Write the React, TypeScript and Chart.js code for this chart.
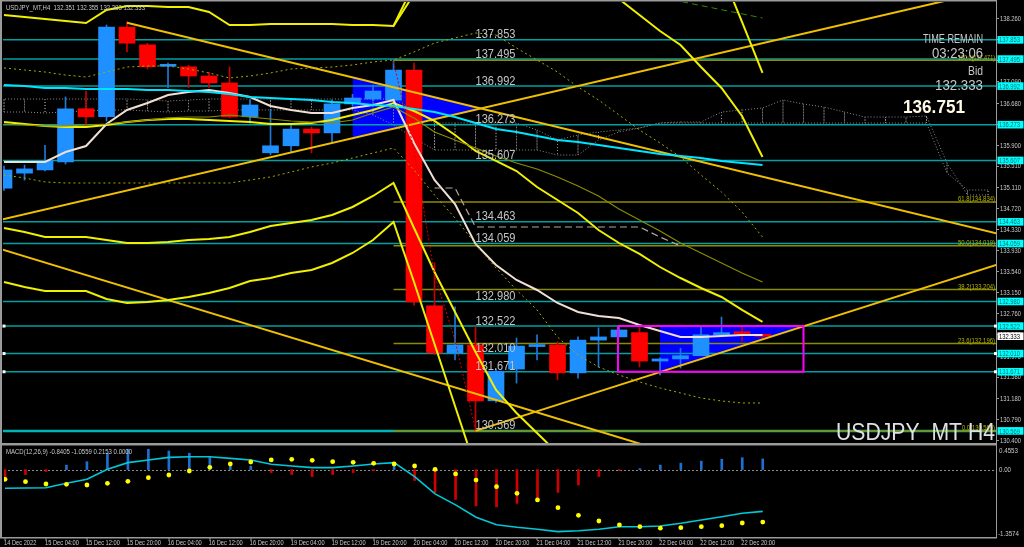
import React, { useEffect, useRef } from 'react';
import { Chart, registerables } from 'chart.js';
Chart.register(...registerables);

// ---------- scale ranges ----------
const X_MIN = -0.05;
const X_MAX = 48.39;
const PRICE_MAX = 138.558;
const PRICE_MIN = 130.344;
const MACD_MAX = 0.4553;
const MACD_MIN = -1.3574;

// ---------- candles (H4 bars, 14 Dec 20:00 .. 23 Dec 00:00) ----------
const opens = [135.09,135.37,135.43,135.58,136.57,136.42,138.09,137.76,137.36,137.35,137.18,137.05,136.42,135.75,135.88,136.19,136.12,136.66,136.75,136.73,137.29,132.90,132.02,132.17,131.13,131.72,132.14,132.17,131.65,132.26,132.32,132.40,131.87,131.91,131.97,132.36,132.40,132.351];
const highs = [135.50,135.52,135.89,136.79,136.90,138.13,138.19,137.79,137.42,137.38,137.25,137.35,136.73,136.55,136.30,136.23,136.73,136.84,137.01,137.471,137.42,133.70,132.88,132.51,131.73,132.30,132.36,132.23,132.32,132.49,132.50,132.49,131.93,132.11,132.50,132.69,132.51,132.355];
const lows = [135.05,135.24,135.41,135.54,136.23,136.34,137.63,137.31,136.96,136.96,136.96,136.40,136.30,135.71,135.76,135.75,135.95,136.62,136.71,136.66,132.91,131.99,131.89,130.569,131.10,131.46,131.89,131.52,131.55,131.76,132.32,131.76,131.61,131.74,131.97,132.35,132.24,132.283];
const closes = [135.43,135.45,135.60,136.57,136.42,138.09,137.79,137.35,137.37,137.18,137.05,136.42,136.64,135.88,136.19,136.12,136.66,136.77,136.90,137.29,132.97,132.02,132.17,131.13,131.68,132.15,132.16,131.65,132.26,132.32,132.45,131.87,131.91,131.97,132.36,132.40,132.38,132.333];

// ---------- indicator lines (per bar) ----------
const upperBand1 = [138.316,138.279,138.241,138.204,138.167,138.409,138.484,138.484,138.465,138.465,138.372,138.130,138.130,138.148,138.148,138.148,138.148,138.130,138.130,138.111,138.707,139.4,139.8,140.1,140.3,140.4,140.4,140.3,140.2,140.0,139.8,139.6,139.45,139.3,139.2,139.117,138.186,137.236];
const upperBand2 = [null,null,null,null,null,null,null,null,null,null,null,null,null,null,null,null,null,null,null,138.111,138.9,139.5,139.7,139.8,139.8,139.7,139.5,139.3,139.0,138.8,138.614,138.316,138.018,137.757,137.347,136.956,136.435,135.671];
const lowerBand1 = [134.349,134.274,134.181,134.181,134.181,134.125,134.069,134.069,134.088,134.125,134.144,134.181,134.274,134.386,134.442,134.498,134.591,134.740,134.945,135.187,134.349,133.529,132.784,132.039,131.332,130.903,130.531,130.158,129.843,129.6,129.45,129.35,129.3,129.3,129.3,129.35,129.4,129.45];
const lowerBand2 = [133.343,133.250,133.175,133.175,133.175,133.026,132.952,132.970,133.008,133.064,133.138,133.231,133.362,133.417,133.511,133.566,133.697,133.883,134.125,134.461,133.343,132.188,131.034,129.879,129.2,128.9,128.7,128.6,128.5,128.5,128.5,128.5,128.5,128.55,128.6,128.65,128.7,128.75];
const yellowMA = [136.323,136.286,136.249,136.230,136.230,136.267,136.323,136.360,136.379,136.379,136.360,136.342,136.323,136.286,136.286,136.304,136.360,136.453,136.547,136.677,136.528,136.342,136.081,135.783,135.597,135.410,135.112,134.870,134.628,134.311,134.069,133.865,133.622,133.417,133.231,133.064,132.822,132.598];
const oliveMA = [136.286,136.267,136.249,136.249,136.267,136.286,136.323,136.360,136.398,136.416,136.416,136.453,136.416,136.379,136.342,136.323,136.304,136.360,136.491,136.602,136.398,136.137,135.988,135.839,135.690,135.559,135.448,135.299,135.131,134.945,134.703,134.498,134.293,134.069,133.883,133.697,133.511,133.343];
const cyanMA = [137.012,136.993,136.956,136.956,136.938,136.938,136.938,136.919,136.919,136.900,136.882,136.845,136.789,136.770,136.751,136.733,136.696,136.677,136.640,136.621,136.565,136.509,136.416,136.304,136.193,136.137,136.062,135.988,135.951,135.895,135.839,135.783,135.727,135.690,135.653,135.597,135.559,135.522];
const whiteMA = [135.578,135.578,135.578,135.764,135.876,136.286,136.547,136.677,136.826,136.882,136.919,136.863,136.789,136.621,136.547,136.491,136.491,136.584,136.640,136.733,135.932,135.243,134.796,134.051,133.660,133.380,133.194,132.952,132.784,132.710,132.673,132.542,132.430,132.318,132.318,132.337,132.356,132.356];
const oliveDotUpper = [137.329,137.292,137.254,137.198,137.161,137.254,137.347,137.366,137.366,137.310,137.236,137.143,137.180,137.236,137.310,137.329,137.347,137.385,137.441,137.478,137.627,137.794,137.888,137.981,137.943,137.701,137.478,137.254,136.975,136.733,136.454,136.174,135.932,135.671,135.336,135.019,134.647,134.181];
const oliveDotLower = [135.336,135.280,135.206,135.187,135.187,135.187,135.187,135.187,135.187,135.187,135.187,135.187,135.243,135.299,135.392,135.485,135.559,135.652,135.746,135.839,135.429,134.963,134.535,134.051,133.604,133.194,132.822,132.318,131.983,131.760,131.611,131.481,131.369,131.276,131.182,131.127,131.089,131.089];
const redDotStart = 19;
const redDot = [137.441,135.802,133.473,132.263,130.587];
const kijunStart = 21;
const kijun = [135.094,135.094,134.367,134.367,134.367,134.367,134.367,134.367,134.367,134.367,134.367,134.181,134.014];

// Ichimoku cloud (shifted forward, bars 0..48)
const spanA = [136.751,136.751,136.751,136.751,136.751,136.751,136.751,136.733,136.714,136.733,136.751,136.751,136.751,136.751,136.751,136.751,136.751,136.751,136.751,136.751,136.547,136.304,136.304,136.304,136.304,136.304,136.174,135.988,136.081,136.137,136.174,136.211,136.304,136.323,136.323,136.509,136.547,136.584,136.733,136.658,136.602,136.509,136.416,136.416,136.416,136.435,135.559,134.963,134.963];
const spanB = [136.509,136.509,136.491,136.509,136.528,136.547,136.547,136.528,136.509,136.528,136.528,136.547,136.547,136.547,136.547,136.547,136.547,136.547,136.453,136.267,136.025,135.802,135.802,135.802,135.802,135.802,135.802,135.708,135.708,135.988,136.137,136.211,136.304,136.304,136.304,136.304,136.304,136.304,136.304,136.304,136.304,136.304,136.304,136.304,136.304,136.304,135.373,135.057,135.057];

// ---------- drawn objects ----------
const levels = [137.853,137.495,136.992,136.273,135.607,134.463,134.059,132.980,132.522,132.010,131.671,130.569];
const selectedLevels = [132.522,132.010,131.671];
const fiboStartBar = 19;
const fiboPrices = [137.471,134.834,134.019,133.204,132.196,130.569];
const fiboLabels = ['100.0(137.471)','61.8(134.834)','50.0(134.019)','38.2(133.204)','23.6(132.196)','0.0(130.569)'];
const trendUp = [[-0.2,134.50],[48.4,138.80]];
const trendDown = [[6,138.17],[48.4,134.25]];
const trendDownLow = [[-0.2,133.96],[48.4,128.31]];
const trendSupport = [[23,130.569],[48.4,133.66]];
const wedgeTop = [[17,137.153],[23.2,136.575]];
const wedgeBottom = [[17,136.022],[23.2,136.575]];
const boxTop = [[32,132.522],[39,132.522]];
const boxBottom = [[32,131.646],[39,132.522]];
const rectBars = [29.95,39.0];
const rectPrices = [132.522,131.671];
const greenDash = [[32.6,138.6],[37.0,138.26]];

// ---------- MACD ----------
const macdHist = [-0.17,-0.10,-0.04,0.09,0.16,0.33,0.41,0.41,0.375,0.33,0.26,0.14,0.07,-0.06,-0.10,-0.14,-0.10,-0.06,-0.02,0.10,-0.22,-0.46,-0.60,-0.73,-0.75,-0.68,-0.60,-0.46,-0.31,-0.14,-0.02,0.02,0.09,0.13,0.17,0.21,0.24,0.2153];
const macdMain = [-0.377,-0.37,-0.364,-0.276,-0.196,0.006,0.14,0.194,0.247,0.26,0.26,0.227,0.194,0.107,0.072,0.039,0.039,0.072,0.113,0.14,-0.143,-0.49,-0.71,-0.96,-1.11,-1.16,-1.2,-1.25,-1.23,-1.2,-1.15,-1.15,-1.135,-1.08,-1.015,-0.95,-0.88,-0.8405];
const macdSignal = [-0.196,-0.244,-0.29,-0.296,-0.31,-0.276,-0.236,-0.163,-0.109,-0.028,0.045,0.113,0.153,0.194,0.207,0.187,0.16,0.146,0.126,0.113,0.073,0.006,-0.088,-0.21,-0.344,-0.477,-0.61,-0.767,-0.92,-1.035,-1.115,-1.15,-1.18,-1.17,-1.15,-1.13,-1.075,-1.0559];

// ---------- tick labels ----------
const priceTicks = [138.26,137.87,137.48,137.09,136.68,136.29,135.90,135.51,135.11,134.72,134.33,133.93,133.54,133.15,132.76,132.37,131.97,131.58,131.18,130.79,130.40];
const timeLabels = ['14 Dec 2022','15 Dec 04:00','15 Dec 12:00','15 Dec 20:00','16 Dec 04:00','16 Dec 12:00','16 Dec 20:00','19 Dec 04:00','19 Dec 12:00','19 Dec 20:00','20 Dec 04:00','20 Dec 12:00','20 Dec 20:00','21 Dec 04:00','21 Dec 12:00','21 Dec 20:00','22 Dec 04:00','22 Dec 12:00','22 Dec 20:00'];
const timeLabelBars = [0,2,4,6,8,10,12,14,16,18,20,22,24,26,28,30,32,34,36];
const titleText = 'USDJPY_MT,H4  132.351 132.355 132.283 132.333';
const macdTitle = 'MACD(12,26,9) -0.8405 -1.0559 0.2153 0.0000';
const bidPrice = 132.333;
const cloudValue = '136.751';

const FONT = '"Liberation Sans", Arial, sans-serif';
const FRAME = '#9a9a9a';
const TXT = '#c8c8c8';

function drawText(ctx: CanvasRenderingContext2D, text: string, x: number, y: number, o: { size: number; color: string; align?: CanvasTextAlign; width?: number; sx?: number; bold?: boolean }) {
  ctx.save();
  ctx.font = `${o.bold ? 'bold ' : ''}${o.size}px ${FONT}`;
  const w = ctx.measureText(text).width;
  const sx = o.width ? o.width / w : (o.sx ?? 1);
  ctx.translate(x, y);
  ctx.scale(sx, 1);
  ctx.textAlign = o.align ?? 'left';
  ctx.textBaseline = 'alphabetic';
  ctx.fillStyle = o.color;
  ctx.fillText(text, 0, 0);
  ctx.restore();
}

const pts = (arr: (number | null)[], start = 0) =>
  arr.map((v, i) => ({ x: i + start, y: v })).filter((p) => p.y !== null);
const pairPts = (arr: number[][]) => arr.map(([x, y]) => ({ x, y }));
const lineDs = (data: any[], color: string, width: number, extra: any = {}) => ({
  type: 'line', data, borderColor: color, borderWidth: width, pointRadius: 0,
  fill: false, tension: 0, order: 2, ...extra,
});

function mainConfig(): any {
  const bars = opens.map((_, i) => i);
  const bull = bars.map((i) => closes[i] >= opens[i]);
  const hatch: any[] = [];
  spanA.forEach((a, i) => { hatch.push({ x: i, y: a }, { x: i, y: spanB[i] }, { x: i, y: a }); });
  const datasets: any[] = [
    // filled wedge and box (background objects)
    lineDs(pairPts(wedgeTop), '#0000ff', 0, { fill: '+1', backgroundColor: '#0000ff', order: 20 }),
    lineDs(pairPts(wedgeBottom), '#0000ff', 0, { order: 20 }),
    lineDs(pairPts(boxTop), '#0000ff', 0, { fill: '+1', backgroundColor: '#0000ff', order: 20 }),
    lineDs(pairPts(boxBottom), '#0000ff', 0, { order: 20 }),
    // ichimoku cloud
    lineDs(hatch, '#8c8c8c', 1, { borderDash: [1, 2], order: 15 }),
    lineDs(pts(spanB), '#8c8c8c', 1, { borderDash: [1, 2], order: 15 }),
    // levels
    ...levels.map((v) => lineDs([{ x: X_MIN - 1, y: v }, { x: X_MAX + 1, y: v }], v === 130.569 ? '#00b4b4' : '#00a0a4', v === 130.569 ? 2.5 : 1.5, { order: 12 })),
    ...fiboPrices.map((v) => lineDs([{ x: fiboStartBar, y: v }, { x: X_MAX + 1, y: v }], '#8c8c00', 1.5, { order: 11 })),
    // candles
    { type: 'bar', data: bars.map((i) => ({ x: i, y: [lows[i], highs[i]] })), backgroundColor: bull.map((b) => (b ? '#1e78d8' : '#c80000')), barThickness: 1, grouped: false, order: 9 },
    { type: 'bar', data: bars.map((i) => ({ x: i, y: [opens[i], closes[i]] })), backgroundColor: bull.map((b) => (b ? '#1e90ff' : '#ff0000')), barThickness: 16, minBarLength: 2, grouped: false, order: 8 },
    // indicators
    lineDs(pts(oliveDotUpper), '#a8a800', 1, { borderDash: [2, 3] }),
    lineDs(pts(oliveDotLower), '#a8a800', 1, { borderDash: [2, 3] }),
    lineDs(pts(oliveMA), '#8c8c00', 1.2),
    lineDs(pts(kijun, kijunStart), '#b8a89c', 1.2, { borderDash: [7, 4] }),
    lineDs(pts(redDot, redDotStart), '#d00000', 1, { borderDash: [2, 2] }),
    lineDs(pts(cyanMA), '#00e4ff', 2),
    lineDs(pts(whiteMA), '#f0e0d4', 2),
    lineDs(pts(upperBand1), '#f0f000', 2),
    lineDs(pts(upperBand2), '#f0f000', 2),
    lineDs(pts(lowerBand1), '#f0f000', 2),
    lineDs(pts(lowerBand2), '#f0f000', 2),
    lineDs(pts(yellowMA), '#f0f000', 2),
    lineDs(pairPts(trendUp), '#f0c000', 2),
    lineDs(pairPts(trendDown), '#f0c000', 2),
    lineDs(pairPts(trendDownLow), '#f0c000', 2),
    lineDs(pairPts(trendSupport), '#f0c000', 2),
    lineDs(pairPts(greenDash), '#2e8b00', 1, { borderDash: [6, 4] }),
    lineDs([
      { x: rectBars[0], y: rectPrices[0] }, { x: rectBars[1], y: rectPrices[0] },
      { x: rectBars[1], y: rectPrices[1] }, { x: rectBars[0], y: rectPrices[1] },
      { x: rectBars[0], y: rectPrices[0] },
    ], '#ff00ff', 2, { order: 1 }),
  ];

  const plugin = {
    id: 'mt4main',
    afterDraw(chart: any) {
      const { ctx, chartArea: ca, scales } = chart;
      const x = scales.x, y = scales.y;
      ctx.save();
      // frame
      ctx.fillStyle = FRAME;
      ctx.fillRect(0, 0, ca.right + 1, 1.5);
      ctx.fillRect(0, 0, 2, chart.height);
      ctx.fillRect(ca.right, 0, 1, chart.height);
      // price axis
      priceTicks.forEach((v) => {
        const py = y.getPixelForValue(v);
        ctx.fillStyle = FRAME;
        ctx.fillRect(ca.right, Math.round(py), 3, 1);
        drawText(ctx, v.toFixed(3), ca.right + 4, py + 2.8, { size: 7.5, color: TXT, width: 21 });
      });
      // level labels
      levels.forEach((v) => {
        drawText(ctx, v.toFixed(3), x.getPixelForValue(23), y.getPixelForValue(v) - 1.5, { size: 12, color: '#c4c4c4', width: 40 });
      });
      fiboPrices.forEach((v, k) => {
        drawText(ctx, fiboLabels[k], ca.right - 1, y.getPixelForValue(v) - 0.8, { size: 7, color: '#b4b400', align: 'right', width: k === 5 ? 33 : 37 });
      });
      // axis boxes
      levels.forEach((v) => {
        const py = y.getPixelForValue(v);
        ctx.fillStyle = '#00ffff';
        ctx.fillRect(ca.right + 1.5, py - 3.8, 26, 7.6);
        drawText(ctx, v.toFixed(3), ca.right + 3, py + 2.6, { size: 7.5, color: '#007070', width: 21 });
      });
      {
        const py = y.getPixelForValue(bidPrice);
        ctx.fillStyle = '#ffffff';
        ctx.fillRect(ca.right + 1.5, py - 3.8, 26, 7.6);
        drawText(ctx, bidPrice.toFixed(3), ca.right + 3, py + 2.6, { size: 7.5, color: '#000000', width: 21 });
      }
      // selection markers
      selectedLevels.forEach((v) => {
        const py = y.getPixelForValue(v);
        ctx.fillStyle = '#ffffff';
        ctx.fillRect(2.5, py - 1.5, 3, 3);
        ctx.fillRect(ca.right - 2, py - 1.5, 3, 3);
      });
      // texts
      drawText(ctx, titleText, 6, 9.5, { size: 7.5, color: TXT, width: 139 });
      drawText(ctx, 'TIME REMAIN', 983, 43, { size: 13, color: TXT, align: 'right', width: 60 });
      drawText(ctx, '03:23:06', 983, 57.5, { size: 14, color: TXT, align: 'right', width: 51 });
      drawText(ctx, 'Bid', 983, 74.5, { size: 13, color: TXT, align: 'right', width: 15 });
      drawText(ctx, bidPrice.toFixed(3), 983, 89.5, { size: 14, color: TXT, align: 'right', width: 48 });
      drawText(ctx, cloudValue, 903, 113, { size: 17.5, color: '#fffbe6', width: 62, bold: true });
      drawText(ctx, 'USDJPY_MT H4', 836, 440, { size: 24, color: '#e0e0e0', width: 159 });
      ctx.restore();
    },
  };

  return {
    type: 'line',
    data: { datasets },
    options: {
      responsive: false,
      animation: false,
      events: [],
      layout: { padding: { left: 3, top: 2, right: 28, bottom: 0 } },
      plugins: { legend: { display: false }, tooltip: { enabled: false } },
      scales: {
        x: { type: 'linear', min: X_MIN, max: X_MAX, offset: false, display: false },
        y: { type: 'linear', min: PRICE_MIN, max: PRICE_MAX, display: false },
      },
    },
    plugins: [plugin],
  };
}

function macdConfig(): any {
  const bars = macdHist.map((_, i) => i);
  const datasets: any[] = [
    { type: 'bar', data: bars.map((i) => ({ x: i, y: macdHist[i] })), backgroundColor: macdHist.map((v) => (v >= 0 ? '#1f6fd0' : '#d00000')), barThickness: 2, grouped: false, order: 3 },
    lineDs(pts(macdMain), '#00c8d8', 1.6, { order: 2 }),
    { type: 'line', data: pts(macdSignal), showLine: false, pointRadius: 2.4, pointBackgroundColor: '#ffff00', pointBorderWidth: 0, order: 1 },
  ];
  const plugin = {
    id: 'mt4macd',
    beforeDatasetsDraw(chart: any) {
      const { ctx, chartArea: ca, scales } = chart;
      const py = Math.round(scales.y.getPixelForValue(0)) + 0.5;
      ctx.save();
      ctx.strokeStyle = '#8c8c8c';
      ctx.lineWidth = 1;
      ctx.setLineDash([2, 2]);
      ctx.beginPath();
      ctx.moveTo(ca.left, py);
      ctx.lineTo(ca.right, py);
      ctx.stroke();
      ctx.restore();
    },
    afterDraw(chart: any) {
      const { ctx, chartArea: ca, scales } = chart;
      const x = scales.x, y = scales.y;
      ctx.save();
      ctx.fillStyle = FRAME;
      ctx.fillRect(0, 0, ca.right + 1, 2.5);
      ctx.fillRect(0, 0, 2, ca.bottom + 1);
      ctx.fillRect(0, ca.bottom, ca.right + 1, 1.5);
      ctx.fillRect(ca.right, 0, 1, ca.bottom + 1);
      drawText(ctx, MACD_MAX.toFixed(4), ca.right + 3, ca.top + 5.5, { size: 7.5, color: TXT, width: 19 });
      drawText(ctx, '0.00', ca.right + 3, y.getPixelForValue(0) + 2.5, { size: 7.5, color: TXT, width: 12 });
      drawText(ctx, MACD_MIN.toFixed(4), ca.right + 2, ca.bottom - 1, { size: 7.5, color: TXT, width: 21 });
      drawText(ctx, macdTitle, 6, 10.5, { size: 7.5, color: TXT, width: 126 });
      timeLabels.forEach((t, k) => {
        const px = x.getPixelForValue(timeLabelBars[k]);
        ctx.fillStyle = FRAME;
        ctx.fillRect(Math.round(px) - 0.5, ca.bottom, 1, 3);
        drawText(ctx, t, Math.max(px - 1, 3), ca.bottom + 8, { size: 7.5, color: TXT, sx: 0.76 });
      });
      ctx.restore();
    },
  };
  return {
    type: 'line',
    data: { datasets },
    options: {
      responsive: false,
      animation: false,
      events: [],
      layout: { padding: { left: 3, top: 4, right: 28, bottom: 10 } },
      plugins: { legend: { display: false }, tooltip: { enabled: false } },
      scales: {
        x: { type: 'linear', min: X_MIN, max: X_MAX, offset: false, display: false },
        y: { type: 'linear', min: MACD_MIN, max: MACD_MAX, display: false },
      },
    },
    plugins: [plugin],
  };
}

export default function App() {
  const mainRef = useRef<HTMLCanvasElement>(null);
  const macdRef = useRef<HTMLCanvasElement>(null);
  useEffect(() => {
    const c1 = new Chart(mainRef.current as HTMLCanvasElement, mainConfig());
    const c2 = new Chart(macdRef.current as HTMLCanvasElement, macdConfig());
    return () => { c1.destroy(); c2.destroy(); };
  }, []);
  return (
    <div style={{ position: 'absolute', left: 0, top: 0, width: 1024, height: 547, background: '#000', overflow: 'hidden' }}>
      <canvas ref={mainRef} width={1024} height={443} style={{ position: 'absolute', left: 0, top: 0 }} />
      <canvas ref={macdRef} width={1024} height={104} style={{ position: 'absolute', left: 0, top: 443 }} />
    </div>
  );
}
